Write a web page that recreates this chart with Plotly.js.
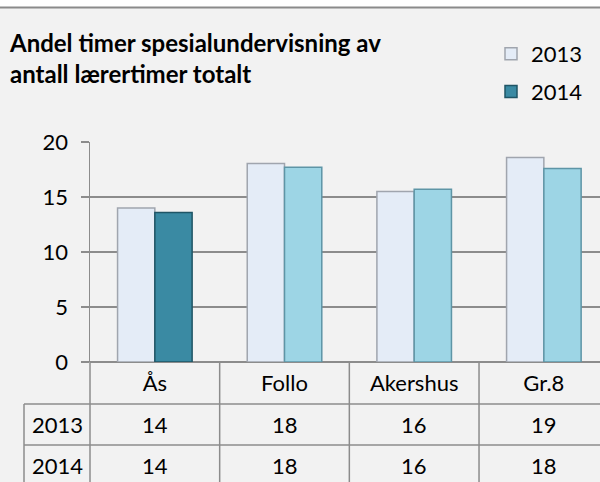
<!DOCTYPE html>
<html>
<head>
<meta charset="utf-8">
<script src="https://cdn.plot.ly/plotly-3.0.1.min.js"></script>
<style>html,body{margin:0;padding:0;background:#f2f2f2;}#chart{width:600px;height:482px;}</style>
</head>
<body>
<div id="chart"></div>
<script>
// ---- data ----
const categories = ['Ås', 'Follo', 'Akershus', 'Gr.8'];
const series2013 = [14.0, 18.05, 15.5, 18.6];
const series2014 = [13.6, 17.7, 15.7, 17.6];
const seriesNames = ['2013', '2014'];
const table2013 = ['14', '18', '16', '19'];
const table2014 = ['14', '18', '16', '18'];
const yTicks = [0, 5, 10, 15, 20];

// ---- styles ----
const FONT = 'Lato, "Open Sans", sans-serif';
const GRID = '#8c8c8c';
const col2013 = '#e4ecf7';
const col2014 = ['#3a8aa3', '#9dd5e5', '#9dd5e5', '#9dd5e5'];
const line2014 = ['#1f5566', '#5e95a6', '#5e95a6', '#5e95a6'];

// paper-y helpers (plot area: top 142px, bottom 362px, 220px tall)
const PH = 220, TOP = 142;
const py = px => 1 - (px - TOP) / PH;
const PW = 510, LEFT = 90;
const pxX = px => (px - LEFT) / PW;

const traces = [
  {type: 'bar', name: seriesNames[0], x: categories, y: series2013,
   marker: {color: col2013, line: {color: '#a0a5ae', width: 1.5}},
   legendgroup: 'a', hoverinfo: 'x+y'},
  {type: 'bar', name: seriesNames[1], x: categories, y: series2014,
   marker: {color: col2014, line: {color: line2014, width: 1.5}},
   legendgroup: 'b', hoverinfo: 'x+y'}
];

const annotations = [];
const rowY = [py(424.5), py(465)];
[table2013, table2014].forEach((row, r) => {
  annotations.push({xref: 'paper', yref: 'paper', x: pxX(57), y: rowY[r], text: seriesNames[r],
    showarrow: false, xanchor: 'center', yanchor: 'middle', font: {family: FONT, size: 22, color: '#000'}});
  row.forEach((v, i) => {
    annotations.push({xref: 'x', yref: 'paper', x: categories[i], y: rowY[r], text: v,
      showarrow: false, xanchor: 'center', yanchor: 'middle', font: {family: FONT, size: 22, color: '#000'}});
  });
});

const shapes = [
  // white strip + border at top
  {type: 'rect', xref: 'paper', yref: 'paper', x0: pxX(0), x1: pxX(600), y0: py(7), y1: py(0), fillcolor: '#ffffff', line: {width: 0}, layer: 'below'},
  {type: 'line', xref: 'paper', yref: 'paper', x0: pxX(0), x1: pxX(600), y0: py(7.5), y1: py(7.5), line: {color: '#8a8a8a', width: 2}},
  // y axis line extended through table
  {type: 'line', xref: 'paper', yref: 'paper', x0: 0, x1: 0, y0: 0, y1: py(482), line: {color: GRID, width: 1.5}},
  // table horizontal lines
  {type: 'line', xref: 'paper', yref: 'paper', x0: pxX(24), x1: pxX(600), y0: py(404), y1: py(404), line: {color: GRID, width: 1.5}},
  {type: 'line', xref: 'paper', yref: 'paper', x0: pxX(24), x1: pxX(600), y0: py(445), y1: py(445), line: {color: GRID, width: 1.5}},
  // table left border
  {type: 'line', xref: 'paper', yref: 'paper', x0: pxX(24), x1: pxX(24), y0: py(404), y1: py(482), line: {color: GRID, width: 1.5}}
];
// category separators through the table
for (let i = 0; i < categories.length - 1; i++) {
  shapes.push({type: 'line', xref: 'x', yref: 'paper', x0: i + 0.5, x1: i + 0.5, y0: 0, y1: py(482), line: {color: GRID, width: 1.5}});
}

const layout = {
  width: 600, height: 482,
  margin: {l: 90, r: 0, t: 142, b: 120, pad: 0},
  paper_bgcolor: '#f2f2f2', plot_bgcolor: '#f2f2f2',
  font: {family: FONT, size: 22, color: '#000'},
  title: {text: '<b>Andel timer spesialundervisning av<br>antall lærertimer totalt</b>',
          font: {family: FONT, size: 24, color: '#000'},
          x: 10 / 600, xanchor: 'left', xref: 'container', y: 1 - 52 / 482, yanchor: 'top', yref: 'container'},
  barmode: 'group', bargap: 0.425, bargroupgap: 0,
  showlegend: true,
  legend: {x: pxX(491), y: py(33), xanchor: 'left', yanchor: 'top', bgcolor: 'rgba(0,0,0,0)',
           font: {family: FONT, size: 22, color: '#000'}, tracegroupgap: 6, itemwidth: 30, traceorder: 'grouped'},
  xaxis: {type: 'category', range: [-0.5, 3.433], showgrid: false, zeroline: false, showline: false,
          ticks: '', tickfont: {family: FONT, size: 22, color: '#000'}, ticklabelstandoff: 6, fixedrange: true},
  yaxis: {range: [0, 20], tickvals: yTicks, showgrid: true, gridcolor: GRID, gridwidth: 1.5,
          zeroline: true, zerolinecolor: GRID, zerolinewidth: 1.5,
          showline: true, linecolor: GRID, linewidth: 1.5,
          ticks: 'outside', ticklen: 8, tickcolor: GRID, tickwidth: 1.5,
          tickfont: {family: FONT, size: 22, color: '#000'}, ticklabelstandoff: 8, fixedrange: true},
  annotations: annotations,
  shapes: shapes
};

Plotly.newPlot('chart', traces, layout, {displayModeBar: false, staticPlot: true});
</script>
</body>
</html>
